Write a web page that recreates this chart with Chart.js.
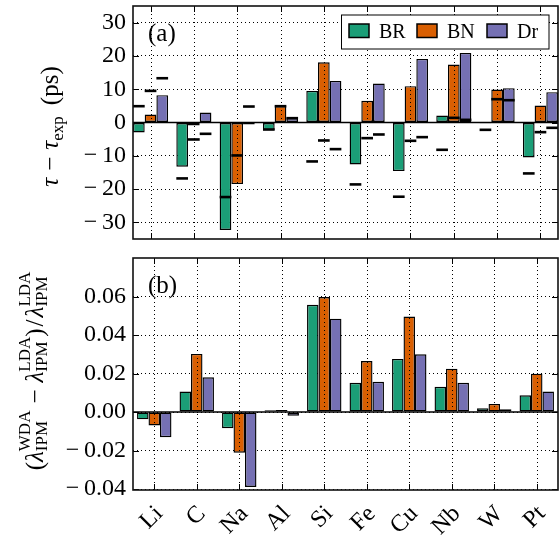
<!DOCTYPE html>
<html><head><meta charset="utf-8">
<script src="https://cdn.jsdelivr.net/npm/chart.js@4"></script>
<style>
html,body{margin:0;padding:0;background:#fff;}
#wrap{position:relative;width:559px;height:537px;overflow:hidden;}
canvas{position:absolute;left:0;top:0;}
</style></head><body>
<div id="wrap"><canvas id="c1" width="559" height="537"></canvas><canvas id="c2" width="559" height="537"></canvas></div>
<script>
// ---------------- data ----------------
const categories = ['Li','C','Na','Al','Si','Fe','Cu','Nb','W','Pt'];
const seriesNames = ['BR','BN','Dr'];

// panel (a): tau - tau_exp (ps), bars
const tauBR = [-3.0, -13.3, -32.3, -2.3, 9.5, -12.6, -14.6, 2.1, -0.2, -10.5];
const tauBN = [2.4, -0.9, -18.5, 4.9, 18.1, 6.5, 10.9, 17.4, 9.9, 5.1];
const tauDr = [8.2, 3.0, -0.6, 1.3, 12.5, 11.7, 19.1, 20.9, 10.3, 9.1];
// panel (a): black dash markers
const dashBR = [4.9, -16.8, -22.4, -2.1, -11.7, -18.6, -22.3, -8.2, -2.2, -15.3];
const dashBN = [9.5, -5.1, -9.9, 4.9, -5.4, -4.7, -5.5, 1.4, 7.0, -2.9];
const dashDr = [13.3, -3.4, 4.8, 1.3, -8.0, -3.6, -4.4, 0.8, 6.7, -1.6];

// panel (b): relative lambda difference
const lamBR = [-0.0038, 0.0106, -0.0084, 0.0009, 0.0557, 0.0152, 0.0276, 0.0131, 0.0019, 0.0087];
const lamBN = [-0.0070, 0.0302, -0.0211, 0.0011, 0.0597, 0.0265, 0.0496, 0.0225, 0.0042, 0.0199];
const lamDr = [-0.0131, 0.0180, -0.0389, -0.0019, 0.0485, 0.0157, 0.0300, 0.0152, 0.0014, 0.0106];

const tauTicks = [-30, -20, -10, 0, 10, 20, 30];
const lamTicks = [-0.04, -0.02, 0.00, 0.02, 0.04, 0.06];

// ---------------- styling ----------------
const SERIF = "'Liberation Serif', 'DejaVu Serif', serif";
const COLORS = ['#1b9e77', '#d95f02', '#7570b3'];
const BAR_W = 0.27;          // bar width in category units
const OFFS = [-BAR_W, 0, BAR_W];
const MINUS = '\u2212';

function fontStr(size, italic) { return (italic ? 'italic ' : '') + size + 'px ' + SERIF; }

function drawRich(ctx, cx, cy, runs) {
  let W = 0;
  const pcs = [];
  for (const r of runs) {
    ctx.font = fontStr(r.size, r.italic);
    let w;
    if (r.sup !== undefined) w = Math.max(ctx.measureText(r.sup).width, ctx.measureText(r.sub).width);
    else w = ctx.measureText(r.t).width;
    pcs.push({r, x: W + (r.pre || 0)});
    W += w + (r.pre || 0) + (r.post || 0);
  }
  ctx.save();
  ctx.translate(cx, cy);
  ctx.rotate(-Math.PI / 2);
  ctx.fillStyle = '#000';
  ctx.textAlign = 'left';
  ctx.textBaseline = 'alphabetic';
  for (const p of pcs) {
    const r = p.r;
    ctx.font = fontStr(r.size, r.italic);
    if (r.sup !== undefined) {
      ctx.fillText(r.sup, -W / 2 + p.x, r.supDy);
      ctx.fillText(r.sub, -W / 2 + p.x, r.subDy);
    } else {
      ctx.fillText(r.t, -W / 2 + p.x, r.dy || 0);
    }
  }
  ctx.restore();
}

const panelPlugin = {
  id: 'panel',
  afterDatasetsDraw(chart, args, opts) {
    const ctx = chart.ctx;
    const ca = chart.chartArea;
    const xs = chart.scales.x, ys = chart.scales.y;
    ctx.save();
    ctx.beginPath();
    ctx.rect(ca.left, ca.top, ca.right - ca.left, ca.bottom - ca.top);
    ctx.clip();
    // vertical dotted grid lines (drawn over bars)
    ctx.strokeStyle = '#000';
    ctx.lineWidth = 1;
    ctx.setLineDash([1, 3]);
    for (const t of xs.ticks) {
      const px = Math.round(xs.getPixelForValue(t.value)) + 0.5;
      ctx.beginPath(); ctx.moveTo(px, ca.top); ctx.lineTo(px, ca.bottom); ctx.stroke();
    }
    ctx.setLineDash([]);
    // zero line
    const z = ys.getPixelForValue(0);
    ctx.lineWidth = 1.6;
    ctx.strokeStyle = '#000';
    ctx.beginPath(); ctx.moveTo(ca.left, z); ctx.lineTo(ca.right, z); ctx.stroke();
    // inner tick marks
    ctx.lineWidth = 1;
    const TL = 6;
    for (const t of xs.ticks) {
      const px = Math.round(xs.getPixelForValue(t.value)) + 0.5;
      ctx.beginPath();
      ctx.moveTo(px, ca.bottom); ctx.lineTo(px, ca.bottom - TL);
      ctx.moveTo(px, ca.top); ctx.lineTo(px, ca.top + TL);
      ctx.stroke();
    }
    for (const t of ys.ticks) {
      const py = Math.round(ys.getPixelForValue(t.value)) + 0.5;
      ctx.beginPath();
      ctx.moveTo(ca.left, py); ctx.lineTo(ca.left + TL, py);
      ctx.moveTo(ca.right, py); ctx.lineTo(ca.right - TL, py);
      ctx.stroke();
    }
    ctx.restore();
    ctx.save();
    // frame
    ctx.strokeStyle = '#111';
    ctx.lineWidth = 1.6;
    ctx.strokeRect(ca.left, ca.top, ca.right - ca.left, ca.bottom - ca.top);
    // panel label
    ctx.fillStyle = '#000';
    ctx.font = fontStr(25, false);
    ctx.textAlign = 'left';
    ctx.textBaseline = 'alphabetic';
    ctx.fillText(opts.label, ca.left + 15, ca.top + 35);
    // legend
    if (opts.legend) {
      const bars = chart.data.datasets.filter(d => d.type !== 'line');
      const lx = 341.5, ly = 15, lw = 207.5, lh = 34;
      ctx.fillStyle = '#fff';
      ctx.fillRect(lx, ly, lw, lh);
      ctx.strokeStyle = '#000';
      ctx.lineWidth = 1;
      ctx.strokeRect(lx, ly, lw, lh);
      const slots = [349, 417, 487];
      ctx.font = fontStr(20, false);
      bars.forEach((d, i) => {
        ctx.fillStyle = d.backgroundColor;
        ctx.fillRect(slots[i], 24, 20, 13.5);
        ctx.lineWidth = 1.5;
        ctx.strokeStyle = '#000';
        ctx.strokeRect(slots[i], 24, 20, 13.5);
        ctx.fillStyle = '#000';
        ctx.fillText(d.label, slots[i] + 30, 38);
      });
    }
    // y-axis title
    drawRich(ctx, opts.titleX, (ca.top + ca.bottom) / 2 + opts.titleShift, opts.title);
    ctx.restore();
  }
};

function barDatasets(arrs) {
  return arrs.map((arr, i) => ({
    type: 'bar',
    label: seriesNames[i],
    data: arr.map((v, k) => ({x: k, y: v})),
    backgroundColor: COLORS[i],
    borderColor: '#000',
    borderWidth: 1.4,
    borderSkipped: false,
    categoryPercentage: 3 * BAR_W,
    barPercentage: 1.0,
    order: 2
  }));
}
function dashDatasets(arrs) {
  return arrs.map((arr, i) => ({
    type: 'line',
    label: seriesNames[i] + ' marker',
    data: arr.map((v, k) => ({x: k + OFFS[i], y: v})),
    showLine: false,
    pointStyle: 'line',
    pointBorderColor: '#000',
    pointBackgroundColor: '#000',
    pointBorderWidth: 2.6,
    pointRadius: (c) => {
      const s = c.chart.scales.x;
      return Math.abs(s.getPixelForValue(BAR_W) - s.getPixelForValue(0)) / 2;
    },
    order: 0
  }));
}

function yAxis(ticksArr, min, max, fmt) {
  return {
    type: 'linear', min, max,
    afterBuildTicks: s => { s.ticks = ticksArr.map(v => ({value: v})); },
    ticks: {font: {family: SERIF, size: 24}, color: '#000', padding: 7, callback: v => fmt(v)},
    grid: {color: '#000', lineWidth: 1, drawTicks: false},
    border: {display: false, dash: [1, 3]},
    afterFit: s => { s.width = 133; s.paddingTop = 0; s.paddingBottom = 0; }
  };
}

const commonOpts = {
  responsive: false, animation: false, events: [],
};

new Chart(document.getElementById('c1'), {
  type: 'bar',
  data: {datasets: [...dashDatasets([dashBR, dashBN, dashDr]), ...barDatasets([tauBR, tauBN, tauDr])]},
  plugins: [panelPlugin],
  options: {
    ...commonOpts,
    layout: {padding: {top: 6, right: 1, left: 0, bottom: 0}},
    plugins: {
      legend: {display: false}, tooltip: {enabled: false},
      panel: {label: '(a)', legend: true, titleX: 58, titleShift: 4, title: [
        {t: '\u03c4', size: 25, italic: true},
        {t: MINUS, size: 25, pre: 7, post: 7},
        {t: '\u03c4', size: 25, italic: true},
        {t: 'exp', size: 17, dy: 5},
        {t: '(ps)', size: 25, pre: 11}
      ]}
    },
    scales: {
      x: {
        type: 'linear', min: -0.405, max: 9.405, offset: false,
        afterBuildTicks: s => { s.ticks = categories.map((c, i) => ({value: i})); },
        ticks: {display: false},
        grid: {display: false, offset: false}, border: {display: false},
        afterFit: s => { s.height = 298; s.paddingLeft = 0; s.paddingRight = 0; }
      },
      y: yAxis(tauTicks, -35, 35, v => v < 0 ? MINUS + '\u2009' + Math.abs(v) : String(v))
    }
  }
});

new Chart(document.getElementById('c2'), {
  type: 'bar',
  data: {datasets: barDatasets([lamBR, lamBN, lamDr])},
  plugins: [panelPlugin],
  options: {
    ...commonOpts,
    layout: {padding: {top: 258, right: 1, left: 0, bottom: 0}},
    plugins: {
      legend: {display: false}, tooltip: {enabled: false},
      panel: {label: '(b)', legend: false, titleX: 43, titleShift: -3, title: [
        {t: '(', size: 25},
        {t: '\u03bb', size: 25, italic: true},
        {sup: 'WDA', sub: 'IPM', size: 17, supDy: -13, subDy: 4},
        {t: MINUS, size: 25, pre: 7, post: 7},
        {t: '\u03bb', size: 25, italic: true},
        {sup: 'LDA', sub: 'IPM', size: 17, supDy: -13, subDy: 4},
        {t: ')', size: 25},
        {t: '/', size: 25, pre: 2, post: 2},
        {t: '\u03bb', size: 25, italic: true},
        {sup: 'LDA', sub: 'IPM', size: 17, supDy: -13, subDy: 4}
      ]}
    },
    scales: {
      x: {
        type: 'linear', min: -0.5, max: 9.5, offset: false,
        afterBuildTicks: s => { s.ticks = categories.map((c, i) => ({value: i})); },
        ticks: {font: {family: SERIF, size: 24}, color: '#000', padding: 2, autoSkip: false, labelOffset: 5,
                minRotation: 45, maxRotation: 45, callback: v => categories[Math.round(v)]},
        grid: {display: false, offset: false}, border: {display: false},
        afterFit: s => { s.height = 47; s.paddingLeft = 0; s.paddingRight = 0; }
      },
      y: yAxis(lamTicks, -0.0405, 0.08, v => v < 0 ? MINUS + '\u2009' + Math.abs(v).toFixed(2) : v.toFixed(2))
    }
  }
});
</script>
</body></html>
